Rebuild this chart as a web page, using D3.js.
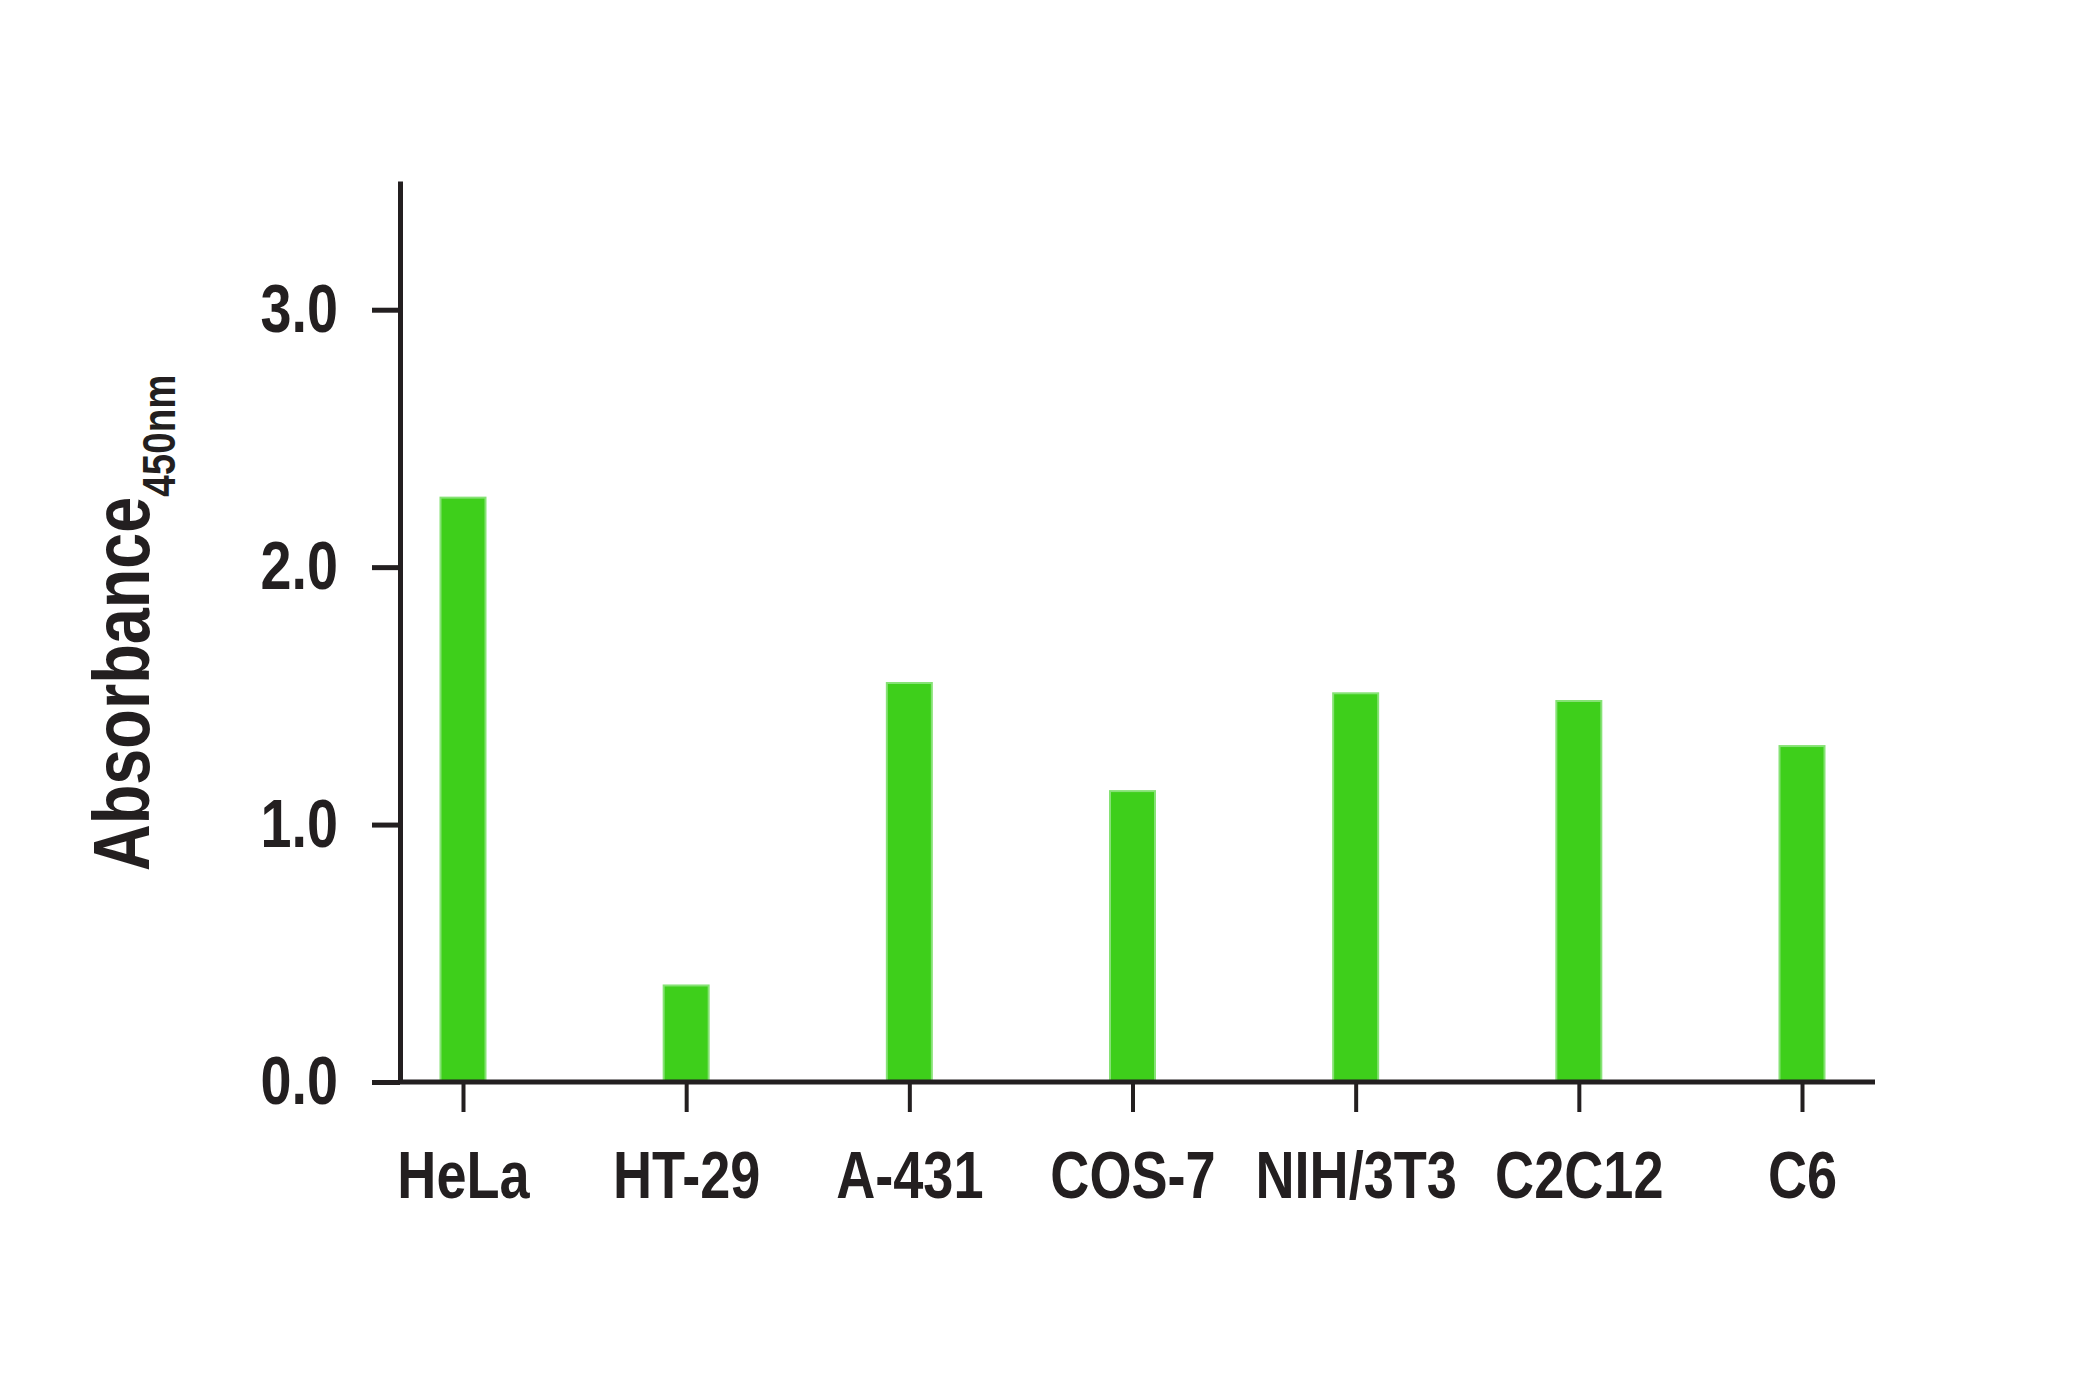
<!DOCTYPE html>
<html>
<head>
<meta charset="utf-8">
<script src="https://cdn.jsdelivr.net/npm/d3@7"></script>
<style>
  body { margin:0; background:#fff; }
  text { font-family: "Liberation Sans", Arial, sans-serif; font-weight:bold; fill:#231f20; }
</style>
</head>
<body>
<div id="chart"></div>
<script>
// cell lines and absorbance readings
var cellLines = ["HeLa", "HT-29", "A-431", "COS-7", "NIH/3T3", "C2C12", "C6"];
var absorbance = [2.27, 0.375, 1.55, 1.13, 1.51, 1.48, 1.305];
var yTicks = [0, 1, 2, 3];

var width = 2080, height = 1400;
var ink = "#231f20";
var narrow = 0.82; // squeeze text to look like a condensed face

var svg = d3.select("#chart")
            .append("svg")
            .attr("width", width)
            .attr("height", height);

var x = d3.scalePoint()
    .domain(cellLines)
    .range([463, 1802]);

var y = d3.scaleLinear()
    .domain([0, 3.5])
    .range([1082, 181]);

var barWidth = 45;

// bars
svg.selectAll(".bar")
    .data(cellLines)
    .enter().append("rect")
    .attr("class", "bar")
    .attr("x", function(d){ return x(d) - barWidth / 2 })
    .attr("y", function(d, i){ return y(absorbance[i]) })
    .attr("width", barWidth)
    .attr("height", function(d, i){ return y(0) - y(absorbance[i]) })
    .attr("fill", "#3ecf1b")
    .attr("stroke", "#86e275")
    .attr("stroke-width", 2);

// y axis
var yAxis = svg.append("g")
    .attr("transform", "translate(400,0)")
    .call(d3.axisLeft(y)
        .tickValues(yTicks)
        .tickSize(28)
        .tickSizeOuter(0)
        .tickPadding(34)
        .tickFormat(d3.format(".1f")));
yAxis.select(".domain").attr("stroke", ink).attr("stroke-width", 5);
yAxis.selectAll(".tick line").attr("stroke", ink).attr("stroke-width", 5);
yAxis.selectAll(".tick text")
    .style("font-size", "68px")
    .attr("fill", ink)
    .attr("x", -62 / narrow)
    .attr("transform", "scale(" + narrow + ",1)");

// x axis
var xAxis = svg.append("g")
    .attr("transform", "translate(0," + y(0) + ")")
    .call(d3.axisBottom(x)
        .tickSize(30)
        .tickSizeOuter(0)
        .tickPadding(39));
xAxis.select(".domain").remove();
xAxis.selectAll(".tick line").attr("stroke", ink).attr("stroke-width", 4);
xAxis.selectAll(".tick text")
    .style("font-size", "66px")
    .attr("fill", ink)
    .attr("transform", "scale(" + narrow + ",1)");

svg.append("line")
    .attr("x1", 398)
    .attr("x2", 1875)
    .attr("y1", y(0))
    .attr("y2", y(0))
    .attr("stroke", ink)
    .attr("stroke-width", 5);

// y axis title with subscript
var title = svg.append("text")
    .attr("transform", "translate(149,871) rotate(-90) scale(" + narrow + ",1)")
    .style("font-size", "79px");
title.append("tspan").text("Absorbance");
title.append("tspan")
    .attr("dy", 26)
    .style("font-size", "47px")
    .text("450nm");
</script>
</body>
</html>
